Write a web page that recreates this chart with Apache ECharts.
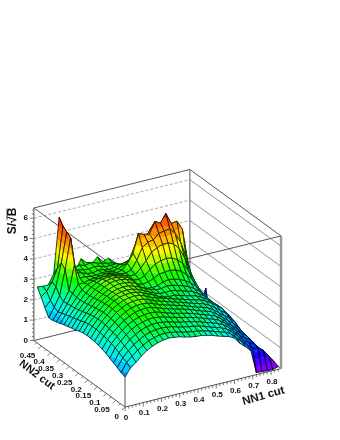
<!DOCTYPE html>
<html><head><meta charset="utf-8">
<style>html,body{margin:0;padding:0;background:#fff}#c{width:340px;height:440px}</style>
<script src="https://cdn.jsdelivr.net/npm/echarts@6/dist/echarts.min.js"></script>
</head><body><div id="c"></div>
<script>
const nn1Grid=[0,.03,.06,.09,.12,.15,.18,.21,.24,.27,.30,.33,.36,.39,.42,.45,.48,.51,.54,.57,.60,.63,.66,.69,.72,.75,.78,.81,.84];
const nn2Grid=[0,.0205,.041,.0615,.082,.1025,.123,.1435,.164,.1845,.205,.2255,.246,.2665,.287,.3075,.328,.3485,.369,.3895,.41,.4305,.451,.4715];
const row00=[1.47,1.85,2.05,2.30,2.50,2.65,2.75,2.82,2.85,2.82,2.78,2.70,2.64,2.60,2.58,2.52,2.45,2.35,2.27,2.20,2.05,1.73,1.50,1.24,.10,.08,.06,.05,.13];
const row01=[1.55,1.98,2.22,2.45,2.62,2.78,2.86,2.93,2.95,2.92,2.88,2.80,2.74,2.70,2.66,2.60,2.53,2.44,2.35,2.27,2.13,1.88,1.62,1.38,1.15,1.10,.90,.55,.22];
const row02=[1.65,2.08,2.35,2.58,2.76,2.90,3.00,3.05,3.07,3.04,3.00,2.92,2.85,2.80,2.76,2.70,2.62,2.52,2.43,2.35,2.22,2.00,1.75,1.48,1.28,1.20,.85,.60,.22];
const row03=[1.75,2.18,2.45,2.70,2.88,3.02,3.12,3.17,3.18,3.15,3.10,3.02,2.95,2.90,2.84,2.78,2.70,2.60,2.52,2.43,2.30,2.10,1.85,1.58,1.38,1.25,.90,.60,.25];
const row04=[1.85,2.28,2.55,2.80,3.00,3.13,3.22,3.28,3.30,3.26,3.20,3.12,3.05,2.98,2.92,2.85,2.78,2.68,2.58,2.50,2.38,2.18,1.95,1.68,1.46,1.30,.90,.55,.40];
const row05=[1.95,2.36,2.64,2.88,3.08,3.22,3.32,3.38,3.40,3.37,3.30,3.20,3.12,3.05,2.98,2.92,2.84,2.74,2.65,2.56,2.45,2.26,2.02,1.78,1.55,1.32,.80,.40,.15];
const row06=[2.02,2.42,2.70,2.94,3.16,3.30,3.42,3.48,3.50,3.47,3.38,3.28,3.20,3.12,3.05,2.98,2.90,2.80,2.70,2.62,2.52,2.34,2.12,1.90,1.68,1.42,.75,.35,.15];
const row07=[2.08,2.46,2.75,3.00,3.22,3.38,3.50,3.56,3.58,3.54,3.45,3.34,3.25,3.18,3.10,3.02,2.94,2.84,2.75,2.68,2.58,2.42,2.22,2.00,1.80,1.55,.80,.35,.10];
const row08=[2.12,2.50,2.80,3.05,3.28,3.44,3.56,3.62,3.64,3.60,3.50,3.38,3.30,3.22,3.14,3.05,2.98,2.88,2.80,2.72,2.64,2.50,2.32,2.12,1.92,1.62,.85,.35,.10];
const row09=[2.14,2.52,2.82,3.08,3.32,3.48,3.60,3.66,3.68,3.65,3.55,3.42,3.32,3.25,3.16,3.08,3.00,2.92,2.84,2.76,2.70,2.58,2.42,2.22,2.02,1.70,.85,.30,.10];
const row10=[2.15,2.52,2.82,3.08,3.32,3.50,3.62,3.68,3.70,3.67,3.58,3.45,3.35,3.20,3.10,3.05,3.06,2.98,2.90,2.82,2.76,2.62,2.45,2.25,2.02,1.60,.80,.30,.10];
const row11=[2.13,2.50,2.80,3.05,3.30,3.48,3.62,3.68,3.70,3.68,3.60,3.48,3.35,3.22,3.14,3.12,3.14,3.08,3.00,2.92,2.84,2.68,2.50,2.28,1.90,1.40,.70,.25,.10];
const row12=[2.08,2.46,2.76,3.02,3.26,3.46,3.60,3.68,3.72,3.70,3.62,3.52,3.38,3.26,3.18,3.18,3.24,3.20,3.14,3.04,2.94,2.78,2.58,2.30,1.80,1.20,.60,.20,.10];
const row13=[2.00,2.38,2.70,2.96,3.22,3.42,3.58,3.68,3.74,3.72,3.66,3.56,3.30,3.18,3.15,3.18,3.30,3.34,3.30,3.22,3.10,2.92,2.70,2.35,1.70,1.10,.55,.20,.10];
const row14=[1.96,2.32,2.64,2.92,3.18,3.40,3.58,3.70,3.75,3.74,3.68,3.58,3.32,3.25,3.30,3.40,3.55,3.58,3.60,3.55,3.42,3.20,2.90,2.50,1.80,1.10,.50,.20,.10];
const row15=[1.90,2.26,2.58,2.88,3.15,3.38,3.55,3.68,3.72,3.72,3.66,3.58,3.38,3.35,3.45,3.70,3.90,4.00,4.05,4.00,3.85,3.60,3.20,2.70,1.90,1.10,.50,.20,.10];
const row16=[1.85,2.20,2.54,2.86,3.14,3.36,3.52,3.62,3.66,3.66,3.62,3.54,3.45,3.45,3.70,4.00,4.35,4.50,4.60,4.60,4.50,4.20,3.70,3.00,2.00,1.15,.50,.20,.10];
const row17=[1.78,2.14,2.50,2.85,3.16,3.36,3.46,3.52,3.55,3.56,3.52,3.48,3.45,3.55,3.95,4.50,4.70,4.75,5.00,5.05,5.10,4.80,4.30,3.50,2.20,1.20,.55,.25,.15];
const row18=[1.72,2.08,2.48,2.92,3.30,3.30,3.38,3.40,3.45,3.48,3.44,3.40,3.46,3.72,4.15,5.05,4.95,4.90,5.45,5.30,5.70,5.15,5.20,4.75,3.10,1.60,.75,.40,.30];
const row19=[1.66,2.00,2.45,2.90,4.10,3.40,3.40,3.35,3.35,3.40,3.38,3.34,3.40,3.50,3.70,4.30,4.70,4.60,5.00,5.00,5.20,4.90,4.70,4.30,2.80,1.40,.60,.35,1.39];
const row20=[1.65,2.10,2.60,3.80,5.30,3.50,3.45,3.35,3.32,3.38,3.34,3.28,3.32,3.40,3.45,3.50,4.30,4.20,4.50,4.50,4.60,4.40,4.20,3.70,2.40,1.20,.50,.25,.20];
const row21=[2.00,2.30,2.90,4.00,5.45,3.80,3.45,3.40,3.36,3.42,3.38,3.28,3.28,3.30,3.20,3.10,3.60,3.80,4.00,4.00,4.00,3.80,3.60,3.10,2.00,1.00,.40,.20,.15];
const row22=[2.40,2.60,3.00,3.60,5.60,4.00,3.40,3.50,3.40,3.48,3.40,3.32,3.25,3.20,3.00,2.85,3.00,3.45,3.55,3.55,3.50,3.30,3.10,2.60,1.60,.80,.30,.15,.10];
const row23=[2.75,2.72,2.72,3.20,5.90,4.20,3.20,3.10,3.60,3.35,3.25,3.50,3.20,3.30,3.05,2.85,2.70,3.00,3.05,3.05,3.00,2.80,2.60,2.20,1.30,.60,.25,.10,.10];
const surfaceRows=[row00,row01,row02,row03,row04,row05,row06,row07,row08,row09,row10,row11,row12,row13,row14,row15,row16,row17,row18,row19,row20,row21,row22,row23];

const nn1Ticks=[0,.1,.2,.3,.4,.5,.6,.7,.8];
const nn2Ticks=[0,.05,.1,.15,.2,.25,.3,.35,.4,.45];
const zTicks=[0,1,2,3,4,5,6];
const bandColors=['#8000ff','#5000ff','#2000ff','#0030ff','#0085ff','#00c8ff','#00f0e8','#00ffbb','#00ff80','#00ff40','#10ff00','#60ff00','#bfff00','#fff700','#ffbf00','#ff8c00','#ff5e00','#ff2b00','#ff0000','#e00000'];
const bandStep=.325;
const nn1Max=.855, nn2Max=.49, zMax=6.5;

// oblique view of the three data axes onto the hidden page-sized cartesian axes
function view(u,v,z){return [125+182.5*u-186*v, 407-45*u-135.6*v-20.4*z];}

function clip(poly,level,keepAbove){
  const out=[];
  for(let i=0;i<poly.length;i++){
    const a=poly[i],b=poly[(i+1)%poly.length];
    const ia=keepAbove?a[2]>=level:a[2]<=level, ib=keepAbove?b[2]>=level:b[2]<=level;
    if(ia)out.push(a);
    if(ia!==ib){const t=(level-a[2])/(b[2]-a[2]);out.push([a[0]+t*(b[0]-a[0]),a[1]+t*(b[1]-a[1]),level]);}
  }
  return out;
}
const cells=[];
for(let k=nn2Grid.length-2;k>=0;k--)for(let j=nn1Grid.length-2;j>=0;j--)cells.push([j,k]);

function renderCell(params,api){
  const j=api.value(0),k=api.value(1);
  const corner=(a,b)=>{const z=surfaceRows[b][a];const p=view(nn1Grid[a],nn2Grid[b],z);return [p[0],p[1],z];};
  const q=[corner(j,k),corner(j+1,k),corner(j+1,k+1),corner(j,k+1)];
  const px=p=>api.coord([p[0],p[1]]);
  const children=[];
  bandColors.forEach((c,b)=>{
    let poly=clip(q,b*bandStep,true);
    if(poly.length>2&&b<bandColors.length-1)poly=clip(poly,(b+1)*bandStep,false);
    if(poly.length>2)children.push({type:'polygon',shape:{points:poly.map(px)},style:{fill:c,stroke:c,lineWidth:.4}});
  });
  children.push({type:'polygon',shape:{points:q.map(px)},style:{fill:'none',stroke:'rgba(0,0,0,.9)',lineWidth:.8}});
  return {type:'group',children};
}
function seg(a,b,style){return {a:view(...a),b:view(...b),style};}
const boxLine={stroke:'#555',lineWidth:1};
const leftGrid={stroke:'#aaa',lineWidth:1,lineDash:[3,2]};
const rightGrid={stroke:'#777',lineWidth:.8};
const tickLine={stroke:'#555',lineWidth:.8};
const behind=[];
zTicks.slice(1).forEach(t=>{
  behind.push(seg([0,nn2Max,t],[nn1Max,nn2Max,t],leftGrid));
  behind.push(seg([nn1Max,nn2Max,t],[nn1Max,0,t],rightGrid));
});
behind.push(
  seg([0,nn2Max,0],[nn1Max,nn2Max,0],boxLine),
  seg([nn1Max,nn2Max,0],[nn1Max,0,0],boxLine),
  seg([nn1Max,nn2Max,0],[nn1Max,nn2Max,zMax],boxLine),
  seg([0,nn2Max,zMax],[nn1Max,nn2Max,zMax],boxLine),
  seg([nn1Max,nn2Max,zMax],[nn1Max,0,zMax],boxLine),
  seg([0,nn2Max,zMax],[0,0,zMax],boxLine),
  seg([0,0,zMax],[nn1Max,0,zMax],boxLine),
  seg([0,0,0],[0,0,zMax],boxLine),
  seg([0,nn2Max,0],[0,0,0],boxLine),
  seg([0,0,0],[nn1Max,0,0],boxLine),
  seg([nn1Max,0,0],[nn1Max,0,zMax],{stroke:'#999',lineWidth:2.5}),
  seg([0,nn2Max,0],[0,nn2Max,zMax],{stroke:'#888',lineWidth:1.5})
);
function shift(s,dx,dy){return {a:s,b:[s[0]+dx,s[1]+dy],style:tickLine};}
for(let t=0;t<=nn1Max+1e-6;t+=.02){const maj=Math.abs(t*10-Math.round(t*10))<1e-6;behind.push(shift(view(t,0,0),0,maj?4:2.5));}
for(let t=0;t<=nn2Max+1e-6;t+=.025){const maj=Math.abs(t*20-Math.round(t*20))<1e-6;behind.push(shift(view(0,t,0),maj?-3:-1.8,maj?3:1.8));}
for(let t=0;t<=zMax+1e-6;t+=.2){const maj=Math.abs(t-Math.round(t))<1e-6;behind.push(shift(view(0,nn2Max,t),maj?-4:-2,0));}
behind.push({a:[7,208.5],b:[7,220],style:{stroke:'#333',lineWidth:.8}});

const font='"Liberation Sans"';
const labels=[];
zTicks.forEach(t=>{const p=view(0,nn2Max,t);labels.push({p:[p[0]-6,p[1]],text:String(t),align:'right',vAlign:'middle',size:8,rot:0});});
nn1Ticks.forEach(t=>{const p=view(t,0,0);labels.push({p:[p[0]+1,p[1]+10.7],text:String(t),align:'center',vAlign:'middle',size:8,rot:0});});
nn2Ticks.forEach(t=>{const p=view(0,t,0);labels.push({p:[p[0]-6,p[1]+9.5],text:String(t),align:'right',vAlign:'middle',size:8,rot:0});});
labels.push({p:[13,221],text:'S/√B',align:'center',vAlign:'middle',size:12,rot:Math.PI/2});
labels.push({p:[37,375],text:'NN2 cut',align:'center',vAlign:'middle',size:11,rot:-.65});
labels.push({p:[263.5,396],text:'NN1 cut',align:'center',vAlign:'middle',size:11.5,rot:.275});

function renderSeg(params,api){
  const s=behind[api.value(0)];
  const a=api.coord(s.a),b=api.coord(s.b);
  return {type:'line',shape:{x1:a[0],y1:a[1],x2:b[0],y2:b[1]},style:Object.assign({fill:null},s.style)};
}
function renderLabel(params,api){
  const l=labels[api.value(0)];
  const p=api.coord(l.p);
  return {type:'text',x:p[0],y:p[1],rotation:l.rot,style:{text:l.text,x:0,y:0,align:l.align,verticalAlign:l.vAlign,font:'bold '+l.size+'px '+font,fill:'#111'}};
}
const chart=echarts.init(document.getElementById('c'),null,{renderer:'canvas'});
chart.setOption({
  animation:false,backgroundColor:'#fff',
  grid:{left:0,right:0,top:0,bottom:0},
  xAxis:{type:'value',min:0,max:340,show:false},
  yAxis:{type:'value',min:0,max:440,inverse:true,show:false},
  series:[
    {type:'custom',z:1,clip:false,silent:true,progressive:0,renderItem:renderSeg,data:behind.map((_,i)=>[i])},
    {type:'custom',z:2,clip:false,silent:true,progressive:0,renderItem:renderCell,data:cells},
    {type:'custom',z:3,clip:false,silent:true,progressive:0,renderItem:renderLabel,data:labels.map((_,i)=>[i])}
  ]
});
</script></body></html>
